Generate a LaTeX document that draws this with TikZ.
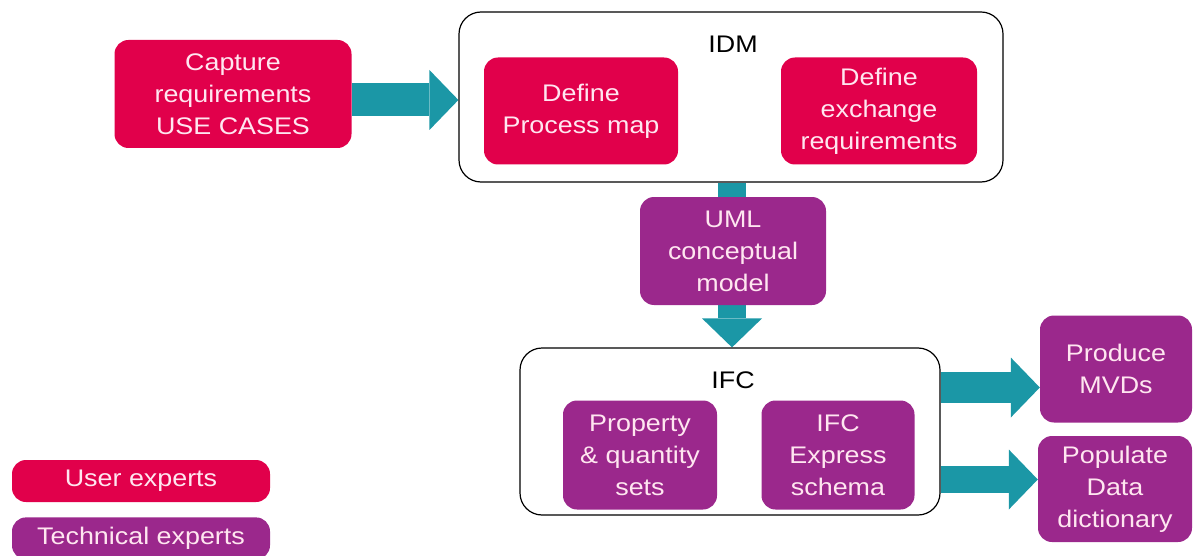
\documentclass[tikz,border=0pt]{standalone}
\usepackage{fontspec}
\setmainfont{Liberation Sans}[FakeStretch=1.12]
\usetikzlibrary{arrows.meta,positioning,backgrounds}
\definecolor{userred}{RGB}{225,0,75}
\definecolor{techpurple}{RGB}{155,40,140}
\definecolor{flowteal}{RGB}{27,151,166}
\definecolor{boxtext}{RGB}{255,230,240}

\begin{document}
\begin{tikzpicture}[x=1pt,y=-1pt,
    every node/.style={font=\fontsize{24}{32}\selectfont, align=center, inner sep=0pt},
    user/.style={fill=userred, text=boxtext, rounded corners=14pt},
    tech/.style={fill=techpurple, text=boxtext, rounded corners=14pt},
    group/.style={draw=black, line width=1.2pt, rounded corners=22pt},
    flow/.style={draw=flowteal, line width=31pt,
                 -{Triangle[length=29pt,width=60pt,line width=0pt]}}]
  \useasboundingbox (0,0) rectangle (1193,556);

  % IDM part
  \node[group, minimum width=544pt, minimum height=170pt] (IDM) at (731,97) {};
  \node (IDMlabel) at (733,44) {IDM};
  \node[user, minimum width=237pt, minimum height=108pt] (capture) at (233,94)
       {Capture\\requirements\\USE CASES};
  \node[user, minimum width=194pt, minimum height=107pt] (procmap) at (581,111)
       {Define\\Process map};
  \node[user, minimum width=196pt, minimum height=107pt] (exchreq) at (879,111)
       {Define\\exchange\\requirements};

  % IFC part
  \node[tech, minimum width=186pt, minimum height=108pt] (uml) at (733,251)
       {UML\\conceptual\\model};
  \node[group, minimum width=420pt, minimum height=167pt] (IFC) at (730,431.5) {};
  \node (IFClabel) at (733,380) {IFC};
  \node[tech, minimum width=154pt, minimum height=109pt] (propsets) at (640,455)
       {Property\\\& quantity\\sets};
  \node[tech, minimum width=153pt, minimum height=109pt] (express) at (838,455)
       {IFC\\Express\\schema};
  \node[tech, minimum width=152pt, minimum height=107pt] (produce) at (1116,369)
       {Produce\\MVDs};
  \node[tech, minimum width=154pt, minimum height=106pt] (populate) at (1115,489)
       {Populate\\Data\\dictionary};

  % legend
  \node[user, minimum width=258pt, minimum height=42pt] (userkey) at (141,481)
       {User experts};
  \node[tech, minimum width=258pt, minimum height=42pt, below=15pt of userkey] (techkey)
       {Technical experts};

  \begin{scope}[on background layer]
    \draw[flow, line width=33pt] ([yshift=-6pt]capture.east)
         -- ([yshift=-6pt]capture.east -| IDM.west);
    \draw[flow, line width=28pt] ([xshift=1pt]IDM.south)
         -- ([xshift=1pt]IDM.south |- IFC.north);
    \draw[flow] ([yshift=44pt]IFC.east) -- ([yshift=44pt]IFC.east -| produce.west);
    \draw[flow, line width=27pt] ([yshift=-48pt]IFC.east)
         -- ([yshift=-48pt]IFC.east -| populate.west);
  \end{scope}
\end{tikzpicture}
\end{document}
